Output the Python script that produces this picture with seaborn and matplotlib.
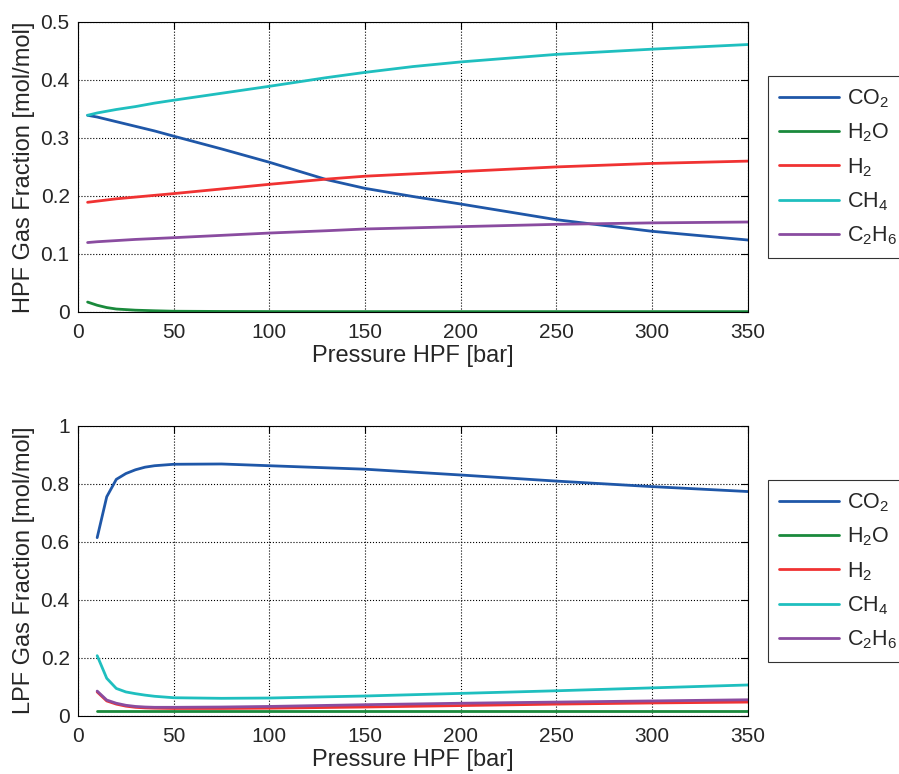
import matplotlib
matplotlib.use("Agg")
import matplotlib.pyplot as plt
import seaborn as sns
import pandas as pd

# Datos - panel superior (HPF)
presion_hpf = [5, 10, 15, 20, 30, 40, 50, 75, 100, 130, 150, 175, 200, 250, 300, 350]
hpf_co2 = [0.339, 0.336, 0.332, 0.328, 0.320, 0.312, 0.303, 0.281, 0.258, 0.228, 0.213, 0.199, 0.186, 0.159, 0.139, 0.124]
hpf_h2o = [0.017, 0.0115, 0.0075, 0.005, 0.003, 0.002, 0.0012, 0.0008, 0.0006, 0.0005, 0.0005, 0.0005, 0.0005, 0.0005, 0.0005, 0.0005]
hpf_h2 = [0.189, 0.191, 0.193, 0.195, 0.198, 0.201, 0.204, 0.212, 0.220, 0.229, 0.234, 0.238, 0.242, 0.250, 0.256, 0.260]
hpf_ch4 = [0.339, 0.343, 0.346, 0.349, 0.354, 0.360, 0.365, 0.377, 0.389, 0.404, 0.413, 0.423, 0.431, 0.444, 0.453, 0.461]
hpf_c2h6 = [0.1196, 0.121, 0.122, 0.123, 0.125, 0.1265, 0.128, 0.132, 0.136, 0.140, 0.143, 0.145, 0.147, 0.151, 0.1535, 0.155]

# Datos - panel inferior (LPF)
presion_lpf = [10, 15, 20, 25, 30, 35, 40, 50, 75, 100, 150, 200, 250, 300, 350]
lpf_co2 = [0.614, 0.755, 0.815, 0.835, 0.848, 0.857, 0.862, 0.867, 0.868, 0.862, 0.850, 0.830, 0.809, 0.790, 0.773]
lpf_h2o = [0.015] * 15
lpf_h2 = [0.082, 0.051, 0.040, 0.033, 0.029, 0.027, 0.026, 0.025, 0.025, 0.026, 0.030, 0.035, 0.040, 0.044, 0.047]
lpf_ch4 = [0.207, 0.129, 0.094, 0.082, 0.076, 0.071, 0.067, 0.062, 0.060, 0.061, 0.068, 0.077, 0.086, 0.096, 0.106]
lpf_c2h6 = [0.085, 0.054, 0.043, 0.036, 0.032, 0.030, 0.029, 0.029, 0.030, 0.032, 0.038, 0.043, 0.047, 0.051, 0.055]

especies = ["CO$_2$", "H$_2$O", "H$_2$", "CH$_4$", "C$_2$H$_6$"]
colores = ["#1f57a8", "#1a8a3c", "#f03232", "#1fbfbf", "#8a4ca0"]


def armar_df(presion, series):
    filas = []
    for nombre, valores in zip(especies, series):
        for p, v in zip(presion, valores):
            filas.append({"presion": p, "fraccion": v, "especie": nombre})
    return pd.DataFrame(filas)


sns.set_style("white")
plt.rcParams["font.family"] = ["Liberation Sans", "DejaVu Sans"]
plt.rcParams["mathtext.default"] = "regular"
plt.rcParams["xtick.direction"] = "in"
plt.rcParams["ytick.direction"] = "in"

fig = plt.figure(figsize=(8.99, 7.74), dpi=100)
ax1 = fig.add_axes([0.0868, 0.597, 0.745, 0.3747])
ax2 = fig.add_axes([0.0868, 0.0753, 0.745, 0.3747])

paneles = [
    (ax1, armar_df(presion_hpf, [hpf_co2, hpf_h2o, hpf_h2, hpf_ch4, hpf_c2h6]), 0.5,
     [0, 0.1, 0.2, 0.3, 0.4, 0.5], ["0", "0.1", "0.2", "0.3", "0.4", "0.5"],
     "HPF Gas Fraction [mol/mol]", 76.3),
    (ax2, armar_df(presion_lpf, [lpf_co2, lpf_h2o, lpf_h2, lpf_ch4, lpf_c2h6]), 1.0,
     [0, 0.2, 0.4, 0.6, 0.8, 1.0], ["0", "0.2", "0.4", "0.6", "0.8", "1"],
     "LPF Gas Fraction [mol/mol]", 480.3),
]

for ax, df, ymax, yticks, ylabels, ylabel, leg_top in paneles:
    sns.lineplot(data=df, x="presion", y="fraccion", hue="especie", hue_order=especies,
                 palette=colores, linewidth=2.0, ax=ax, legend=False)
    ax.set_xlim(0, 350)
    ax.set_ylim(0, ymax)
    ax.set_xticks([0, 50, 100, 150, 200, 250, 300, 350])
    ax.set_yticks(yticks)
    ax.set_yticklabels(ylabels)
    ax.tick_params(labelsize=15, top=True, right=True, length=5, width=0.8, color="black")
    ax.tick_params(axis="x", pad=8)
    ax.tick_params(axis="y", pad=6)
    ax.grid(True, linestyle=":", color="black", linewidth=0.8)
    for s in ax.spines.values():
        s.set_color("black")
        s.set_linewidth(0.8)
    ax.set_xlabel("Pressure HPF [bar]", fontsize=17, labelpad=2)
    ax.set_ylabel(ylabel, fontsize=17, labelpad=4)
    handles = ax.get_lines()[:5]
    leg = fig.legend(handles, especies, loc="upper left",
                     bbox_to_anchor=(768.3 / 899, 1 - leg_top / 774), borderaxespad=0,
                     fontsize=15.5, frameon=True, fancybox=False, handlelength=2.8,
                     labelspacing=0.55, borderpad=0.5, handletextpad=0.35)
    leg.get_frame().set_edgecolor("black")
    leg.get_frame().set_linewidth(0.8)

fig.savefig("out.png", dpi=100)
